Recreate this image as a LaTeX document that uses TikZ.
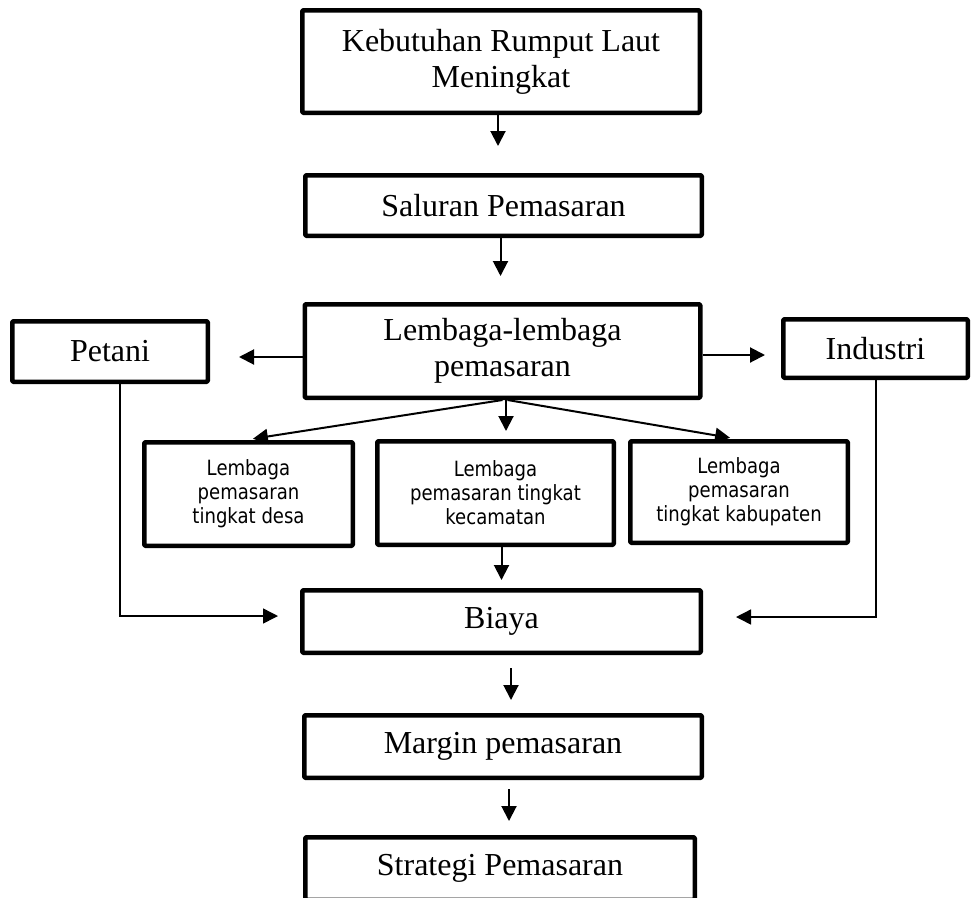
\documentclass[tikz,border=0pt]{standalone}
\usepackage{fontspec}
\setmainfont{Liberation Serif}
\newfontfamily\smallsans[FakeStretch=0.86]{DejaVu Sans}
\usetikzlibrary{arrows.meta,calc}
\begin{document}
\begin{tikzpicture}[x=1pt,y=-1pt,
  box/.style={draw, line width=4.5pt, line join=round, rounded corners=1pt, align=center, inner sep=0pt, font=\fontsize{32}{36}\selectfont},
  sbox/.style={box, font=\smallsans\fontsize{21}{24}\selectfont},
  arr/.style={-{Triangle[length=15pt,width=15pt]}, line width=2pt},
  thinarr/.style={-{Triangle[length=15pt,width=15pt]}, line width=1.5pt}]
\useasboundingbox (0,0) rectangle (973,897);
\clip (0,0) rectangle (973,897);

\node[box, minimum width=397.5pt, minimum height=102.5pt] (K) at (501,61.5) {Kebutuhan Rumput Laut\\Meningkat};
\node[box, minimum width=396.5pt, minimum height=60.5pt] (S) at (503.5,205.5) {Saluran Pemasaran};
\node[box, minimum width=395.5pt, minimum height=93.5pt] (L) at (502.5,351) {Lembaga-lembaga\\pemasaran};
\node[box, minimum width=195.5pt, minimum height=60.5pt] (P) at (110,351.5) {Petani};
\node[box, minimum width=184.5pt, minimum height=58.5pt] (I) at (875.5,348.5) {Industri};
\node[sbox, minimum width=208.5pt, minimum height=103.5pt] (D) at (248.5,494) {Lembaga\\pemasaran\\tingkat desa};
\node[sbox, minimum width=236.5pt, minimum height=103.5pt] (C) at (495.5,493) {Lembaga\\pemasaran tingkat\\kecamatan};
\node[sbox, minimum width=217.5pt, minimum height=101.5pt] (Kb) at (739,492) {Lembaga\\pemasaran\\tingkat kabupaten};
\node[box, minimum width=398.5pt, minimum height=62.5pt] (B) at (501.5,621.5) {Biaya};
\node[box, minimum width=397.5pt, minimum height=62.5pt] (M) at (503,746.5) {Margin pemasaran};
\node[box, minimum width=389.5pt, minimum height=62.5pt] (St) at (500,868.5) {Strategi Pemasaran};

% vertical main arrows
\draw[arr, shorten >=27pt] ([xshift=-3pt]K.south) -- ([xshift=-3pt]K.south |- S.north);
\draw[arr, shorten >=26pt] ([xshift=-3pt]S.south) -- ([xshift=-3pt]S.south |- L.north);
\draw[arr, shorten >=8pt] ([xshift=3.5pt]L.south) -- ([xshift=3.5pt]L.south |- C.north);
\draw[arr, shorten >=8pt] (L.south) -- ([xshift=-3.5pt]D.north);
\draw[arr, shorten >=7pt] ([xshift=5pt]L.south) -- ([xshift=-2pt]Kb.north);
\draw[arr, shorten >=8pt] (C.south -| B.north) -- (B.north);
\draw[arr, shorten <=13pt, shorten >=13pt] ([xshift=9.5pt]B.south) -- ([xshift=9.5pt]B.south |- M.north);
\draw[arr, shorten <=9pt, shorten >=14pt] ([xshift=6pt]M.south) -- ([xshift=6pt]M.south |- St.north);

% side arrows
\draw[arr, shorten >=29pt] ([yshift=-6pt]L.west) -- ([yshift=-6pt]L.west -| P.east);
\draw[arr, shorten >=16pt] ([yshift=-4pt]L.east) -- ([yshift=-4pt]L.east -| I.west);

% Petani / Industri to Biaya
\draw[thinarr, shorten >=22pt] ([xshift=10pt]P.south) |- ([yshift=5.5pt]B.west);
\draw[thinarr, shorten >=33pt] ([xshift=0.5pt]I.south) |- ([yshift=4.5pt]B.east);
\end{tikzpicture}
\end{document}
